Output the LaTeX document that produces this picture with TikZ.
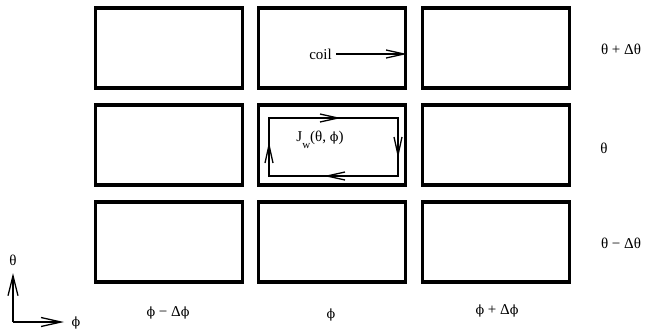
\documentclass[tikz,border=0pt]{standalone}
\usepackage{fontspec}
\setmainfont{Liberation Serif}
\newfontfamily\phifont{DejaVu Serif}
\newcommand{\myphi}{{\phifont\scalebox{0.85}{ϕ}}}
\usetikzlibrary{arrows.meta}
\begin{document}
\begin{tikzpicture}[x=1pt,y=-1pt,
  cell/.style={draw,line width=3.2pt,minimum width=147pt,minimum height=80pt,inner sep=0pt},
  thin/.style={line width=1.3pt},
  barb/.style={-{Straight Barb[length=18pt,width=8pt,line width=1.3pt]}},
  lbl/.style={font=\fontsize{15}{17}\selectfont,inner sep=0pt}]
\useasboundingbox (0,0) rectangle (646,333);
% grid of cells
\node[cell] (c11) at (169,48) {};
\node[cell] (c12) at (332,48) {};
\node[cell] (c13) at (496,48) {};
\node[cell] (c21) at (169,145) {};
\node[cell] (c22) at (332,145) {};
\node[cell] (c23) at (496,145) {};
\node[cell] (c31) at (169,242) {};
\node[cell] (c32) at (332,242) {};
\node[cell] (c33) at (496,242) {};
% coil
\node[lbl,anchor=east] (coil) at (332,54) {coil};
\draw[thin,barb] ([xshift=4pt]coil.east) -- (c12.east |- coil.east);
% current loop
\coordinate (la) at (269,118);
\coordinate (lb) at (398,176);
\draw[thin] (la) rectangle (lb);
\draw[thin,barb] (322,118) -- (341,118);
\draw[thin,barb] (398,139) -- (398,158);
\draw[thin,barb] (343,176) -- (324,176);
\draw[thin,barb] (269,161) -- (269,142);
\node[lbl] (jw) at (320,140) {J\raisebox{-1.1ex}{\fontsize{11}{12}\selectfont w}(θ, \myphi)};
% axes
\coordinate (o) at (13,322);
\node[lbl] (th) at (13,260) {θ};
\node[lbl] (ph) at (76,323) {\myphi};
\draw[thin,-{Straight Barb[length=20pt,width=10pt,line width=1.3pt]}] (o) -- (13,273);
\draw[thin,-{Straight Barb[length=20pt,width=9pt,line width=1.3pt]}] (o) -- (64,322);
% labels
\node[lbl] (r1) at (621,49) {θ + Δθ};
\node[lbl] (r2) at (604,148) {θ};
\node[lbl] (r3) at (621,243) {θ − Δθ};
\node[lbl] (b1) at (168,313) {\myphi{} − Δ\myphi};
\node[lbl] (b2) at (331,315) {\myphi};
\node[lbl] (b3) at (497,311) {\myphi{} + Δ\myphi};
\end{tikzpicture}
\end{document}
